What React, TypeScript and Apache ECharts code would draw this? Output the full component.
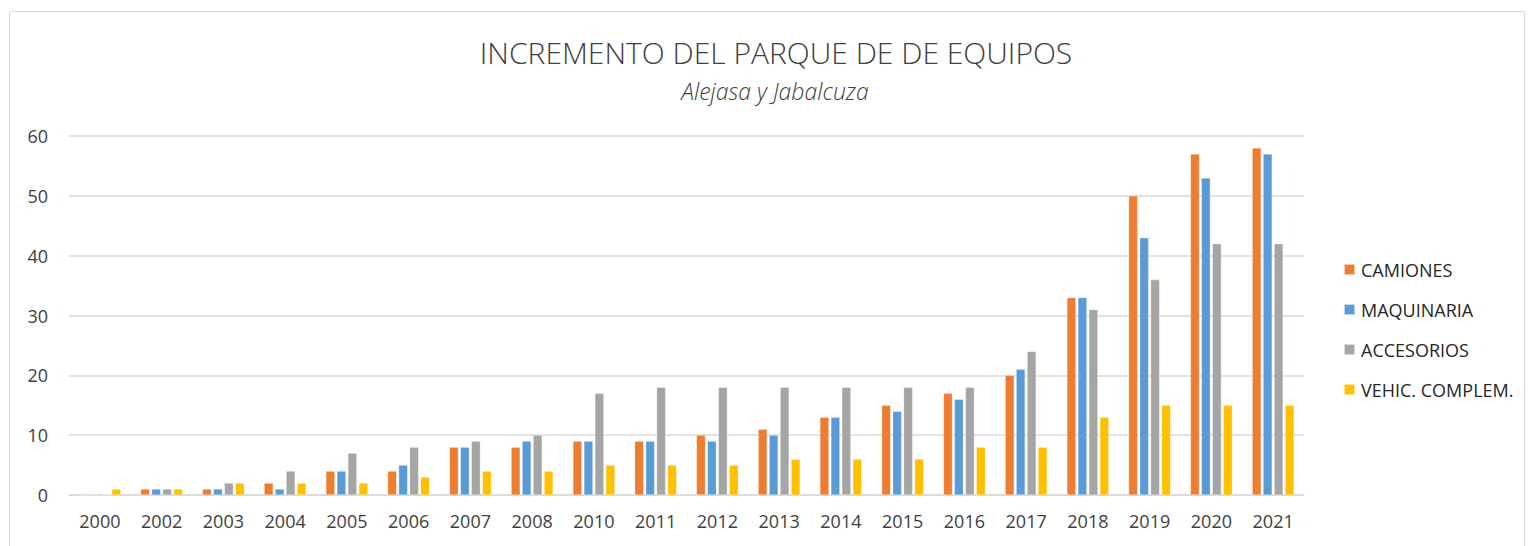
import React, { useEffect, useRef } from "react";
import * as echarts from "echarts";

const categories = ["2000", "2002", "2003", "2004", "2005", "2006", "2007", "2008", "2010", "2011", "2012", "2013", "2014", "2015", "2016", "2017", "2018", "2019", "2020", "2021"];
const camiones = [0, 1, 1, 2, 4, 4, 8, 8, 9, 9, 10, 11, 13, 15, 17, 20, 33, 50, 57, 58];
const maquinaria = [0, 1, 1, 1, 4, 5, 8, 9, 9, 9, 9, 10, 13, 14, 16, 21, 33, 43, 53, 57];
const accesorios = [0, 1, 2, 4, 7, 8, 9, 10, 17, 18, 18, 18, 18, 18, 18, 24, 31, 36, 42, 42];
const vehicComplem = [1, 1, 2, 2, 2, 3, 4, 4, 5, 5, 5, 6, 6, 6, 8, 8, 13, 15, 15, 15];
const yTicks = { min: 0, max: 60, interval: 10 };

const FONT = "'Open Sans', 'Noto Sans', sans-serif";

export default function App() {
  const ref = useRef<HTMLDivElement>(null);
  useEffect(() => {
    const chart = echarts.init(ref.current!, null, { renderer: "svg" });
    const mk = (name: string, data: number[], color: string) => ({
      name,
      type: "bar",
      data,
      barWidth: 9,
      barGap: "22%",
      itemStyle: { color, borderColor: "rgba(255,255,255,0.6)", borderWidth: 0.5 },
    });
    chart.setOption({
      animation: false,
      backgroundColor: "#ffffff",
      textStyle: { fontFamily: FONT },
      graphic: [
        {
          type: "rect",
          shape: { x: 9.5, y: 11.5, width: 1515, height: 545 },
          style: { fill: "none", stroke: "#d9d9d9", lineWidth: 1 },
          silent: true,
        },
        {
          type: "text",
          x: 776,
          y: 52,
          style: {
            text: "INCREMENTO DEL PARQUE DE DE EQUIPOS",
            fontFamily: FONT,
            fontSize: 30,
            fontWeight: 300,
            fill: "#404040",
            align: "center",
            verticalAlign: "middle",
          },
        },
        {
          type: "text",
          x: 775,
          y: 91,
          style: {
            text: "Alejasa y Jabalcuza",
            fontFamily: FONT,
            fontSize: 23,
            fontStyle: "italic",
            fontWeight: 300,
            fill: "#404040",
            align: "center",
            verticalAlign: "middle",
          },
        },
      ],
      legend: {
        orient: "vertical",
        left: 1343,
        top: 260,
        padding: 0,
        itemWidth: 11,
        itemHeight: 11,
        itemGap: 21,
        icon: "rect",
        textStyle: { fontFamily: FONT, fontSize: 18, color: "#262626", lineHeight: 19, padding: [0, 0, 0, 1] },
        data: ["CAMIONES", "MAQUINARIA", "ACCESORIOS", "VEHIC. COMPLEM."],
      },
      grid: { left: 69, right: 1531 - 1304, top: 136, bottom: 546 - 495, containLabel: false },
      xAxis: {
        type: "category",
        data: categories,
        axisLine: { lineStyle: { color: "#d9d9d9", width: 1.5 } },
        axisTick: { show: false },
        axisLabel: { fontFamily: FONT, fontSize: 18, color: "#404040", margin: 17 },
      },
      yAxis: {
        type: "value",
        min: yTicks.min,
        max: yTicks.max,
        interval: yTicks.interval,
        axisLine: { show: false },
        axisTick: { show: false },
        splitLine: { lineStyle: { color: "#d9d9d9", width: 1.5 } },
        axisLabel: { fontFamily: FONT, fontSize: 18, color: "#404040", margin: 21 },
      },
      series: [
        mk("CAMIONES", camiones, "#ED7D31"),
        mk("MAQUINARIA", maquinaria, "#5B9BD5"),
        mk("ACCESORIOS", accesorios, "#A5A5A5"),
        mk("VEHIC. COMPLEM.", vehicComplem, "#FFC000"),
      ],
    });
    return () => chart.dispose();
  }, []);
  return (
    <div
      ref={ref}
      style={{ position: "fixed", left: 0, top: 0, width: 1531, height: 546 }}
    />
  );
}
